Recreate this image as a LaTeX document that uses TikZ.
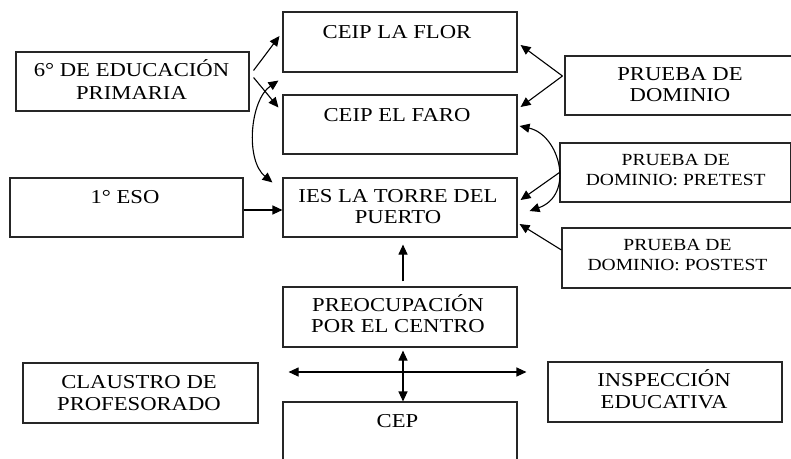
\documentclass[tikz,border=0pt]{standalone}
\usepackage{fontspec}
\setmainfont[FakeStretch=1.15]{Liberation Serif}
\usetikzlibrary{arrows.meta,calc}
\begin{document}
\begin{tikzpicture}[x=1pt,y=-1pt,
  box/.style={draw=black!85,line width=1.1pt,rectangle,inner sep=0pt},
  lbl/.style={inner sep=0pt,anchor=base,font=\fontsize{19.7}{22}\selectfont},
  slbl/.style={inner sep=0pt,anchor=base,font=\fontsize{17}{20}\selectfont},
  conn/.style={line width=1.1pt,-{Triangle[length=10pt,width=9pt]}},
  dconn/.style={line width=1.1pt,{Triangle[length=10pt,width=9pt]}-{Triangle[length=10pt,width=9pt]}}]
\useasboundingbox (0,0) rectangle (791,458);
% boxes
\node[box,minimum width=233,minimum height=59] (sexto) at (132.5,81.5) {};
\node[box,minimum width=234,minimum height=60] (flor) at (400,42) {};
\node[box,minimum width=234,minimum height=59] (faro) at (400,124.5) {};
\node[box,minimum width=233,minimum height=59] (eso) at (126.5,207.5) {};
\node[box,minimum width=234,minimum height=59] (ies) at (400,207.5) {};
\node[box,minimum width=230,minimum height=59] (dominio) at (680,85.5) {};
\node[box,minimum width=231,minimum height=59] (pretest) at (675.5,172.5) {};
\node[box,minimum width=231,minimum height=60] (postest) at (677.5,258) {};
\node[box,minimum width=234,minimum height=60] (preoc) at (400,317) {};
\node[box,minimum width=235,minimum height=60] (claustro) at (140.5,393) {};
\node[box,minimum width=234,minimum height=60] (insp) at (665,392) {};
\node[box,minimum width=234,minimum height=60] (cep) at (400,432) {};
% labels
\node[lbl] (t1a) at (131.5,76) {6° DE EDUCACIÓN};
\node[lbl] (t1b) at (131.5,99) {PRIMARIA};
\node[lbl] (t2) at (397,38.3) {CEIP LA FLOR};
\node[lbl] (t3) at (397,121.7) {CEIP EL FARO};
\node[lbl] (t4) at (125,203.3) {1° ESO};
\node[lbl] (t5a) at (398,202.7) {IES LA TORRE DEL};
\node[lbl] (t5b) at (398,223.3) {PUERTO};
\node[lbl] (t6a) at (680,80) {PRUEBA DE};
\node[lbl] (t6b) at (680,101.7) {DOMINIO};
\node[slbl] (t7a) at (675.7,165.7) {PRUEBA DE};
\node[slbl] (t7b) at (675.7,185) {DOMINIO: PRETEST};
\node[slbl] (t8a) at (677.5,250.7) {PRUEBA DE};
\node[slbl] (t8b) at (677.5,270.7) {DOMINIO: POSTEST};
\node[lbl] (t9a) at (398,311.7) {PREOCUPACIÓN};
\node[lbl] (t9b) at (398,332.7) {POR EL CENTRO};
\node[lbl] (t10a) at (139,388.3) {CLAUSTRO DE};
\node[lbl] (t10b) at (139,410) {PROFESORADO};
\node[lbl] (t11a) at (664,386.7) {INSPECCIÓN};
\node[lbl] (t11b) at (664,408.3) {EDUCATIVA};
\node[lbl] (t12) at (397.5,427.3) {CEP};
% connectors
\draw[conn] ($(sexto.east)+(4,-11)$) -- ($(flor.west)+(-3,-6)$);
\draw[conn] ($(sexto.east)+(4,-4)$) -- ($(faro.west)+(-4,-17)$);
\draw[dconn] ($(flor.south west)+(-4,8)$) .. controls (250,100) and (245,160) .. ($(ies.north west)+(-10,5)$);
\draw[conn] ($(eso.east)+(0,2.5)$) -- ($(ies.west)+(0,2.5)$);
\draw[conn] ($(dominio.west)+(-2,-9.5)$) -- ($(flor.east)+(3,3)$);
\draw[conn] ($(dominio.west)+(-2,-9.5)$) -- ($(faro.east)+(3,-17.5)$);
\draw[conn] (pretest.west) -- ($(ies.east)+(3,-7.5)$);
\draw[dconn] ($(faro.east)+(2,1.5)$) .. controls (560,135) and (575,195) .. ($(ies.east)+(12,3.5)$);
\draw[conn] ($(postest.west)+(0,-8)$) -- ($(ies.east)+(2,16.5)$);
\draw[conn] ($(preoc.north)+(3,-5)$) -- ($(ies.south)+(3,7)$);
\draw[dconn] ($(preoc.south)+(3,3)$) -- ($(cep.north)+(3,0)$);
\coordinate (hl) at ($(claustro.east)+(30,-21)$);
\coordinate (hr) at ($(insp.west)+(-21,-20)$);
\draw[dconn] (hl) -- (hr);
\end{tikzpicture}
\end{document}
